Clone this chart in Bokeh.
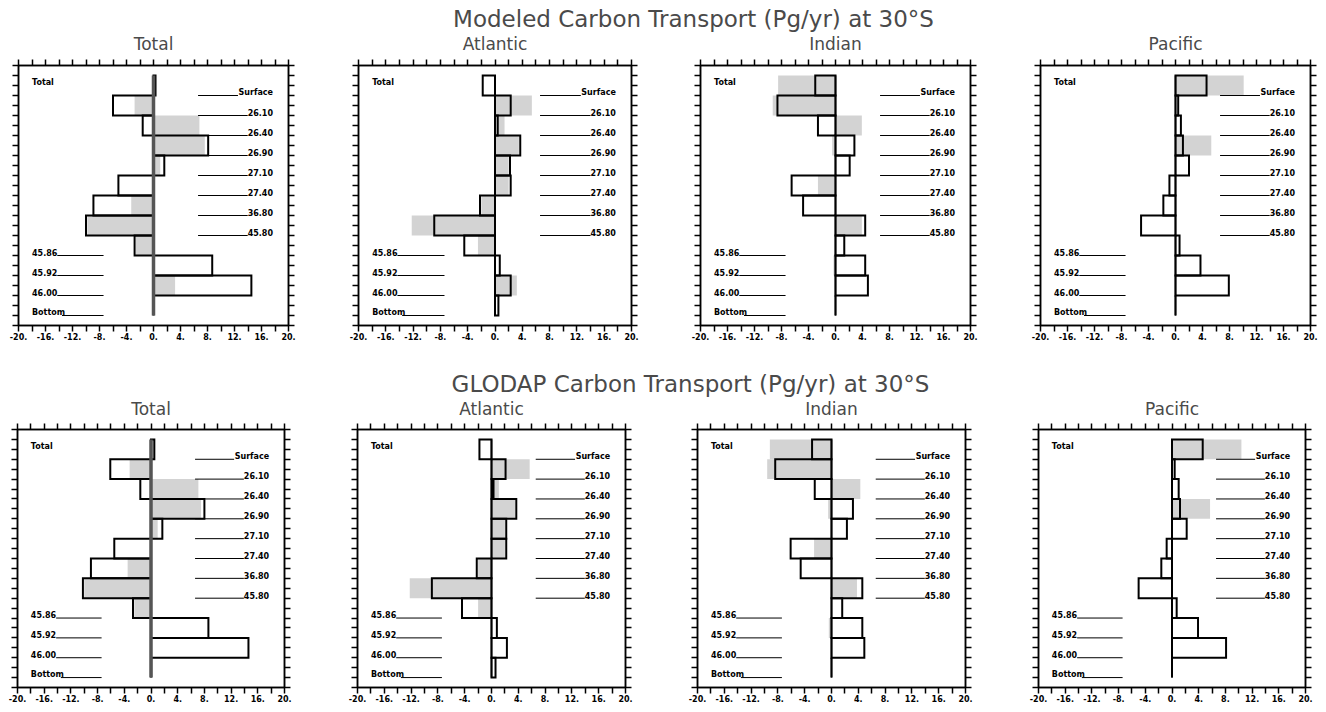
from bokeh.plotting import figure
from bokeh.layouts import column, row
from bokeh.models import Range1d, LinearAxis, FixedTicker, CustomJSTickFormatter
from bokeh.embed import file_html
from bokeh.resources import INLINE
from bokeh.core.properties import value

# ---------------- data ----------------
main_titles = ["Modeled Carbon Transport (Pg/yr) at 30\u00b0S",
               "GLODAP Carbon Transport (Pg/yr) at 30\u00b0S"]
regions = ["Total", "Atlantic", "Indian", "Pacific"]
layers = ["Total", "Surface-26.10", "26.10-26.40", "26.40-26.90", "26.90-27.10",
          "27.10-27.40", "27.40-36.80", "36.80-45.80", "45.80-45.86",
          "45.86-45.92", "45.92-46.00", "46.00-Bottom"]
right_levels = ["Surface", "26.10", "26.40", "26.90", "27.10", "27.40", "36.80", "45.80"]
left_levels = ["45.86", "45.92", "46.00", "Bottom"]
x_major = [-20, -16, -12, -8, -4, 0, 4, 8, 12, 16, 20]
x_minor = [-18, -14, -10, -6, -2, 2, 6, 10, 14, 18]

# modeled transports (outlined bars) and light-grey bars
model_total      = [0.3, -6.0, -1.6, 8.1, 1.6, -5.2, -8.9, -10.0, -2.8, 8.7, 14.5, 0.0]
model_total_grey = [0.3, -2.8, 6.8, 7.6, 1.0, 0.0, -3.3, -9.8, -2.6, 0.0, 3.2, 0.0]
model_atl        = [-1.8, 2.3, 0.4, 3.7, 2.2, 2.3, -2.2, -8.9, -4.5, 0.7, 2.3, 0.5]
model_atl_grey   = [0.0, 5.4, 1.4, 3.5, 2.0, 2.0, -2.0, -12.2, -2.5, 0.0, 3.2, 0.0]
model_ind        = [-3.0, -8.6, -2.6, 2.8, 2.1, -6.5, -4.8, 4.4, 1.3, 4.4, 4.8, 0.0]
model_ind_grey   = [-8.5, -9.3, 3.9, -0.5, 0.0, -2.6, 0.0, 3.9, 0.0, -0.3, 0.0, 0.0]
model_pac        = [4.6, 0.4, 0.8, 1.1, 2.0, -0.9, -1.8, -5.1, 0.6, 3.7, 7.9, 0.0]
model_pac_grey   = [10.1, 0.0, 0.0, 5.3, 0.0, 0.0, 0.0, 0.0, 0.0, 0.0, 0.0, 0.0]

# GLODAP-based transports
glodap_total      = [0.5, -6.1, -1.6, 8.0, 1.7, -5.5, -9.0, -10.2, -2.7, 8.6, 14.6, 0.0]
glodap_total_grey = [0.5, -3.2, 7.1, 7.5, 1.0, 0.0, -3.5, -10.0, -2.5, 0.0, 0.0, 0.3]
glodap_atl        = [-1.8, 2.1, 0.3, 3.7, 2.2, 2.2, -2.2, -8.9, -4.4, 0.8, 2.3, 0.6]
glodap_atl_grey   = [0.0, 5.7, 1.1, 3.5, 2.0, 2.0, -2.0, -12.2, -2.0, 0.0, 0.0, 0.0]
glodap_ind        = [-2.9, -8.4, -2.5, 3.2, 2.3, -6.1, -4.6, 4.6, 1.6, 4.6, 4.9, 0.0]
glodap_ind_grey   = [-9.2, -9.6, 4.3, -0.5, 0.0, -2.6, 0.0, 3.8, 0.0, -0.4, 0.0, 0.0]
glodap_pac        = [4.6, 0.4, 1.0, 1.2, 2.2, -0.8, -1.6, -5.0, 0.7, 3.9, 8.1, 0.0]
glodap_pac_grey   = [10.4, 0.0, 0.0, 5.7, 0.0, 0.0, 0.0, 0.0, 0.0, 0.0, 0.0, 0.0]

model_sets = [(model_total, model_total_grey), (model_atl, model_atl_grey),
              (model_ind, model_ind_grey), (model_pac, model_pac_grey)]
glodap_sets = [(glodap_total, glodap_total_grey), (glodap_atl, glodap_atl_grey),
               (glodap_ind, glodap_ind_grey), (glodap_pac, glodap_pac_grey)]

# ---------------- style / layout ----------------
FONT = value("DejaVu Sans")
GREY = "#d3d3d3"
TITLE_COLOR = "#4a4a4a"
TOTAL_W = 1325
LABEL_LIFT = 0.16          # lift of level labels above their line (rows)
n_rows = len(layers)
row_centers = [n_rows - 0.5 - i for i in range(n_rows)]   # Total row on top
yticks = [-0.5 + 0.5 * i for i in range(2 * (n_rows + 1) + 1)]
empty_fmt = CustomJSTickFormatter(code="return ''")


def char_w(s):
    w = 0.0
    for c in s:
        if c.isdigit():
            w += 5.57
        elif c == ".":
            w += 3.0
        else:
            w += 5.0
    return w


def style_axis(ax, labels):
    ax.axis_line_width = 1.5
    ax.major_tick_line_width = 1.5
    ax.minor_tick_line_width = 1.5
    ax.major_tick_out = 6
    ax.major_tick_in = 0
    ax.minor_tick_out = 6
    ax.minor_tick_in = 0
    if labels:
        ax.major_label_standoff = 1
        ax.major_label_text_font = "DejaVu Sans"
        ax.major_label_text_font_style = "bold"
        ax.major_label_text_font_size = "8px"
        ax.major_label_text_color = "black"
        ax.major_label_overrides = {v: f"{v}." for v in x_major}
    else:
        ax.formatter = empty_fmt
        ax.major_label_standoff = 0
        ax.major_label_text_font_size = "1px"


def make_panel(vals, grey, is_total, fig_left, fig_right, frame_left, frame_w,
               b_top, frame_h, b_bottom):
    p = figure(width=fig_right - fig_left, height=b_top + frame_h + b_bottom,
               x_range=Range1d(-20, 20), y_range=Range1d(-0.5, n_rows + 0.5),
               output_backend="svg", toolbar_location=None,
               x_axis_location=None, y_axis_location=None,
               min_border_left=frame_left - fig_left,
               min_border_right=fig_right - frame_left - frame_w,
               min_border_top=b_top, min_border_bottom=b_bottom)
    p.grid.visible = False
    p.outline_line_color = "black"
    p.outline_line_width = 1.5
    p.border_fill_color = "white"

    xt = FixedTicker(ticks=x_major, minor_ticks=x_minor)
    yt = FixedTicker(ticks=yticks, minor_ticks=[])
    for loc in ("below", "above"):
        ax = LinearAxis(ticker=xt)
        style_axis(ax, loc == "below")
        p.add_layout(ax, loc)
    for loc in ("left", "right"):
        ax = LinearAxis(ticker=yt)
        style_axis(ax, False)
        p.add_layout(ax, loc)

    # grey bars then outlined bars
    p.hbar(y=row_centers, height=1, left=0, right=grey,
           fill_color=GREY, line_color=None)
    p.hbar(y=row_centers, height=1, left=0, right=vals,
           fill_color=None, line_color="black", line_width=2, line_join="miter")
    # zero line
    p.segment(x0=[0], y0=[row_centers[-1] - 0.5], x1=[0], y1=[row_centers[0] + 0.5],
              line_color="#555555" if is_total else "black",
              line_width=3.5 if is_total else 1.5)

    ppu = frame_w / 40.0
    p.text(x=[-18], y=[row_centers[0] + 0.15], text=[layers[0]], text_font=FONT,
           text_font_style="bold", text_font_size="8px", text_align="left",
           text_baseline="middle", text_color="black")
    ry = [n_rows - 1 - i for i in range(len(right_levels))]
    p.text(x=[17.7] * len(right_levels), y=[v + LABEL_LIFT for v in ry],
           text=right_levels, text_font=FONT, text_font_style="bold",
           text_font_size="8px", text_align="right", text_baseline="middle",
           text_color="black")
    p.segment(x0=[6.6] * len(right_levels), y0=ry,
              x1=[17.7 - char_w(s) / ppu for s in right_levels], y1=ry,
              line_color="black", line_width=1)
    ly = [len(left_levels) - 1 - i for i in range(len(left_levels))]
    p.text(x=[-18] * len(left_levels), y=[v + LABEL_LIFT for v in ly],
           text=left_levels, text_font=FONT, text_font_style="bold",
           text_font_size="8px", text_align="left", text_baseline="middle",
           text_color="black")
    p.segment(x0=[-18 + char_w(s) / ppu for s in left_levels], y0=ly,
              x1=[-7.4] * len(left_levels), y1=ly, line_color="black", line_width=1)
    return p


def title_fig(y_top, y_bot, text, tx, ty, sub_x, sub_y):
    t = figure(width=TOTAL_W, height=y_bot - y_top, x_range=Range1d(0, TOTAL_W),
               y_range=Range1d(y_bot, y_top), output_backend="svg",
               toolbar_location=None, x_axis_location=None, y_axis_location=None,
               min_border=0)
    t.grid.visible = False
    t.outline_line_color = None
    t.text(x=[tx], y=[ty], text=[text], text_font=FONT, text_font_size="23px",
           text_align="center", text_baseline="middle", text_color=TITLE_COLOR)
    t.text(x=sub_x, y=[sub_y] * len(sub_x), text=regions, text_font=FONT,
           text_font_size="17px", text_align="center", text_baseline="middle",
           text_color=TITLE_COLOR)
    return t


# horizontal geometry (screen px)
r1_fig = [0, 323, 665, 1005, TOTAL_W]
r1_frame_left = [18, 358, 700, 1040]
r1_frame_w = [270, 273, 270, 270]
r2_fig = [0, 320, 661, 1001, TOTAL_W]
r2_frame_left = [17, 357, 697, 1038]
r2_frame_w = [267, 268, 268, 267]

row1 = []
for i, (v, g) in enumerate(model_sets):
    row1.append(make_panel(v, g, i == 0, r1_fig[i], r1_fig[i + 1], r1_frame_left[i],
                           r1_frame_w[i], 8, 260, 21))
row2 = []
for i, (v, g) in enumerate(glodap_sets):
    row2.append(make_panel(v, g, i == 0, r2_fig[i], r2_fig[i + 1], r2_frame_left[i],
                           r2_frame_w[i], 8, 258, 24))

t1 = title_fig(0, 57, main_titles[0], 693, 18.5,
               [r1_frame_left[i] + r1_frame_w[i] / 2 for i in range(4)], 43.5)
t2 = title_fig(346, 421, main_titles[1], 690, 383,
               [r2_frame_left[i] + r2_frame_w[i] / 2 for i in range(4)], 408)

layout = column(t1, row(*row1), t2, row(*row2))
open("out.html", "w").write(file_html(layout, INLINE))
